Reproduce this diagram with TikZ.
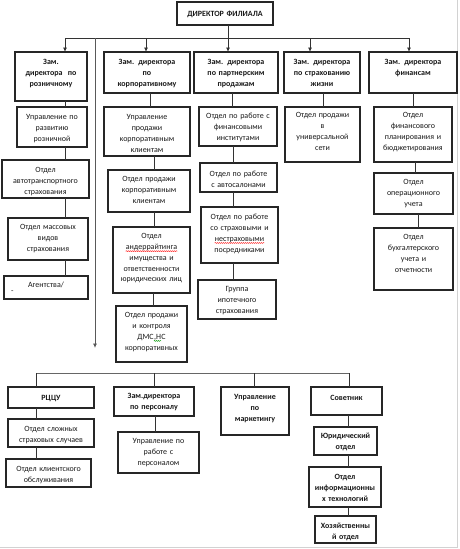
\documentclass[tikz,border=0pt]{standalone}
\usepackage{fontspec}
\setmainfont{Carlito}
\usetikzlibrary{arrows.meta,fit,calc,decorations.pathmorphing}

\tikzset{
 box/.style={draw=black!85, line width=1.1pt, inner sep=0pt, outer sep=0pt},
 txt/.style={inner sep=0pt, align=center, text=black!90, font=\fontsize{8}{10.8}\selectfont},
 bf/.style={font=\fontsize{8}{10.8}\selectfont\bfseries},
 con/.style={draw=black!80, line width=0.8pt},
 arr/.style={con, -{Latex[length=4.5pt,width=4pt]}},
}

\newcommand\bx[8]{%
 \coordinate (#1-nw) at (#2,#3);
 \coordinate (#1-se) at (#4,#5);
 \node[box, fit=(#1-nw)(#1-se)] (#1) {};
 \pgfmathsetmacro\bxw{#4-#2-2}%
 \node[txt, #7, text width=\bxw pt, anchor=north] (#1-t) at ($(#1.north)+(0,#6)$) {\strut#8};
}
\newcommand\cn[3]{\path (#3,0) coordinate (tmpx); \draw[con] (#1.south -| tmpx) -- (#2.north -| tmpx);}
\newcommand\spl[2]{\tikz[baseline=(sw.base),x=1cm,y=1cm]{\node[inner sep=0pt] (sw) {#2};
 \draw[#1, line width=0.4pt, decorate, decoration={snake, amplitude=0.5pt, segment length=2pt}] ([yshift=-1.6pt]sw.base west) -- ([yshift=-1.6pt]sw.base east);}}

\begin{document}
\begin{tikzpicture}[x=1pt,y=-1pt]
\useasboundingbox (0,0) rectangle (460,549);
\draw[gray!35, line width=0.8pt] (457.5,0) -- (457.5,547.5) -- (0,547.5);

% director
\bx{dir}{177}{2}{273}{25}{6.5}{bf}{ДИРЕКТОР ФИЛИАЛА}

% row 1
\bx{z1}{15}{52}{87}{101}{5}{bf}{Зам.\\ директора\ \ по\\ розничному}
\bx{z2}{104}{52}{190}{93}{5}{bf}{Зам. директора\\ по\\ корпоративному}
\bx{z3}{194}{52}{278}{93}{5}{bf}{Зам. директора\\ по партнерским\\ продажам}
\bx{z4}{284}{52}{360}{93}{5}{bf}{Зам. директора\\ по страхованию\\ жизни}
\bx{z5}{369}{52}{457}{93}{5}{bf}{Зам. директора\\ финансам}

% column 1
\bx{c1a}{17}{107}{87}{147}{5}{}{Управление по\\ развитию\\ розничной}
\bx{c1b}{2}{160}{89}{198}{5}{}{Отдел\\ автотранспортного\\ страхования}
\bx{c1c}{8}{218}{88}{260}{4}{}{Отдел массовых\\ видов\\ страхования}
\bx{c1d}{4}{276}{88}{299}{4}{}{Агентства/}
\node[txt, anchor=west] (c1d-dash) at (11,292) {-};

% column 2
\bx{c2a}{104}{107}{190}{156}{5}{}{Управление\\ продажи\\ корпоративным\\ клиентам}
\bx{c2b}{108}{170}{190}{212}{4}{}{Отдел продажи\\ корпоративным\\ клиентам}
\bx{c2c}{113}{227}{190}{293}{4}{}{Отдел\\ \spl{red}{андеррайтинга}\\ имущества и\\ ответственности\\ юридических лиц}
\bx{c2d}{116}{306}{187}{362}{4}{}{Отдел продажи\\ и контроля\\ ДМС\spl{green!60!black}{,Н}С\\ корпоративных}

% column 3
\bx{c3a}{199}{107}{277}{146}{4}{}{Отдел по работе с\\ финансовыми\\ институтами}
\bx{c3b}{200}{163}{277}{192}{6}{}{Отдел по работе\\ с автосалонами}
\bx{c3c}{201}{207}{278}{263}{5}{}{Отдел по работе\\ со страховыми и\\ \spl{red}{нестраховыми}\\ посредниками}
\bx{c3d}{198}{280}{276}{319}{4}{}{Группа\\ ипотечного\\ страхования}

% column 4
\bx{c4a}{285}{107}{360}{162}{3}{}{Отдел продажи\\ в\\ универсальной\\ сети}

% column 5
\bx{c5a}{374}{107}{452}{162}{3}{}{Отдел\\ финансового\\ планирования и\\ бюджетирования}
\bx{c5b}{374}{173}{453}{214}{4}{}{Отдел\\ операционного\\ учета}
\bx{c5c}{374}{228}{453}{290}{4}{}{Отдел\\ бухгалтерского\\ учета и\\ отчетности}

% bottom row
\bx{b1}{8}{387}{94}{408}{6}{bf}{РЦЦУ}
\bx{b2}{114}{387}{194}{416}{4}{bf}{Зам.директора\\ по персоналу}
\bx{b3}{221}{387}{289}{435}{5}{bf}{Управление\\ по\\ маркетингу}
\bx{b4}{311}{387}{382}{415}{6}{bf}{Советник}
\bx{b1a}{8}{419}{94}{447}{5}{}{Отдел сложных\\ страховых случаев}
\bx{b1b}{6}{459}{91}{487}{5}{}{Отдел клиентского\\ обслуживания}
\bx{b2a}{118}{432}{199}{473}{4}{}{Управление по\\ работе с\\ персоналом}
\bx{b4a}{314}{427}{377}{455}{4}{bf}{Юридический\\ отдел}
\bx{b4b}{309}{467}{381}{507}{5}{bf}{Отдел\\ информационны\\ х технологий}
\bx{b4c}{315}{516}{376}{543}{5}{bf}{Хозяйственны\\ й отдел}

% top distribution line
\coordinate (h1) at (65,38);
\coordinate (h2) at (146,38);
\coordinate (h3) at (228,38);
\coordinate (h4) at (310,38);
\coordinate (h5) at (409,38);
\coordinate (hv) at (95,38);
\coordinate (vend) at (95,348);
\draw[con] (h1) -- (h5);
\draw[con] (dir.south -| h3) -- (h3);
\draw[arr] (h1) -- (z1.north -| h1);
\draw[arr] (h2) -- (z2.north -| h2);
\draw[arr] (h3) -- (z3.north -| h3);
\draw[arr] (h4) -- (z4.north -| h4);
\draw[arr] (h5) -- (z5.north -| h5);
\draw[arr, draw=black!65] (hv) -- (vend);

% column connectors
\cn{z1}{c1a}{65}
\cn{c1a}{c1b}{65}
\cn{c1b}{c1c}{65}
\cn{c1c}{c1d}{65}
\cn{z2}{c2a}{150}
\cn{c2a}{c2b}{154}
\cn{c2b}{c2c}{154}
\cn{c2c}{c2d}{153}
\cn{z3}{c3a}{232}
\cn{c3a}{c3b}{233}
\cn{c3b}{c3c}{233}
\cn{c3c}{c3d}{233}
\cn{z4}{c4a}{323}
\cn{z5}{c5a}{413}
\cn{c5a}{c5b}{415}
\cn{c5b}{c5c}{418}

% bottom distribution
\coordinate (g1) at (36,373);
\coordinate (g2) at (154,373);
\coordinate (g3) at (254,373);
\coordinate (g4) at (349,373);
\draw[con, draw=black!60] (g1) -- (g4);
\draw[con] (g1) -- (b1.north -| g1);
\draw[con] (g2) -- (b2.north -| g2);
\draw[con] (g3) -- (b3.north -| g3);
\draw[con] (g4) -- (b4.north -| g4);
\cn{b1}{b1a}{36}
\cn{b1a}{b1b}{36}
\cn{b2}{b2a}{155}
\cn{b4}{b4a}{348}
\cn{b4a}{b4b}{348}
\cn{b4b}{b4c}{348}
\end{tikzpicture}
\end{document}
